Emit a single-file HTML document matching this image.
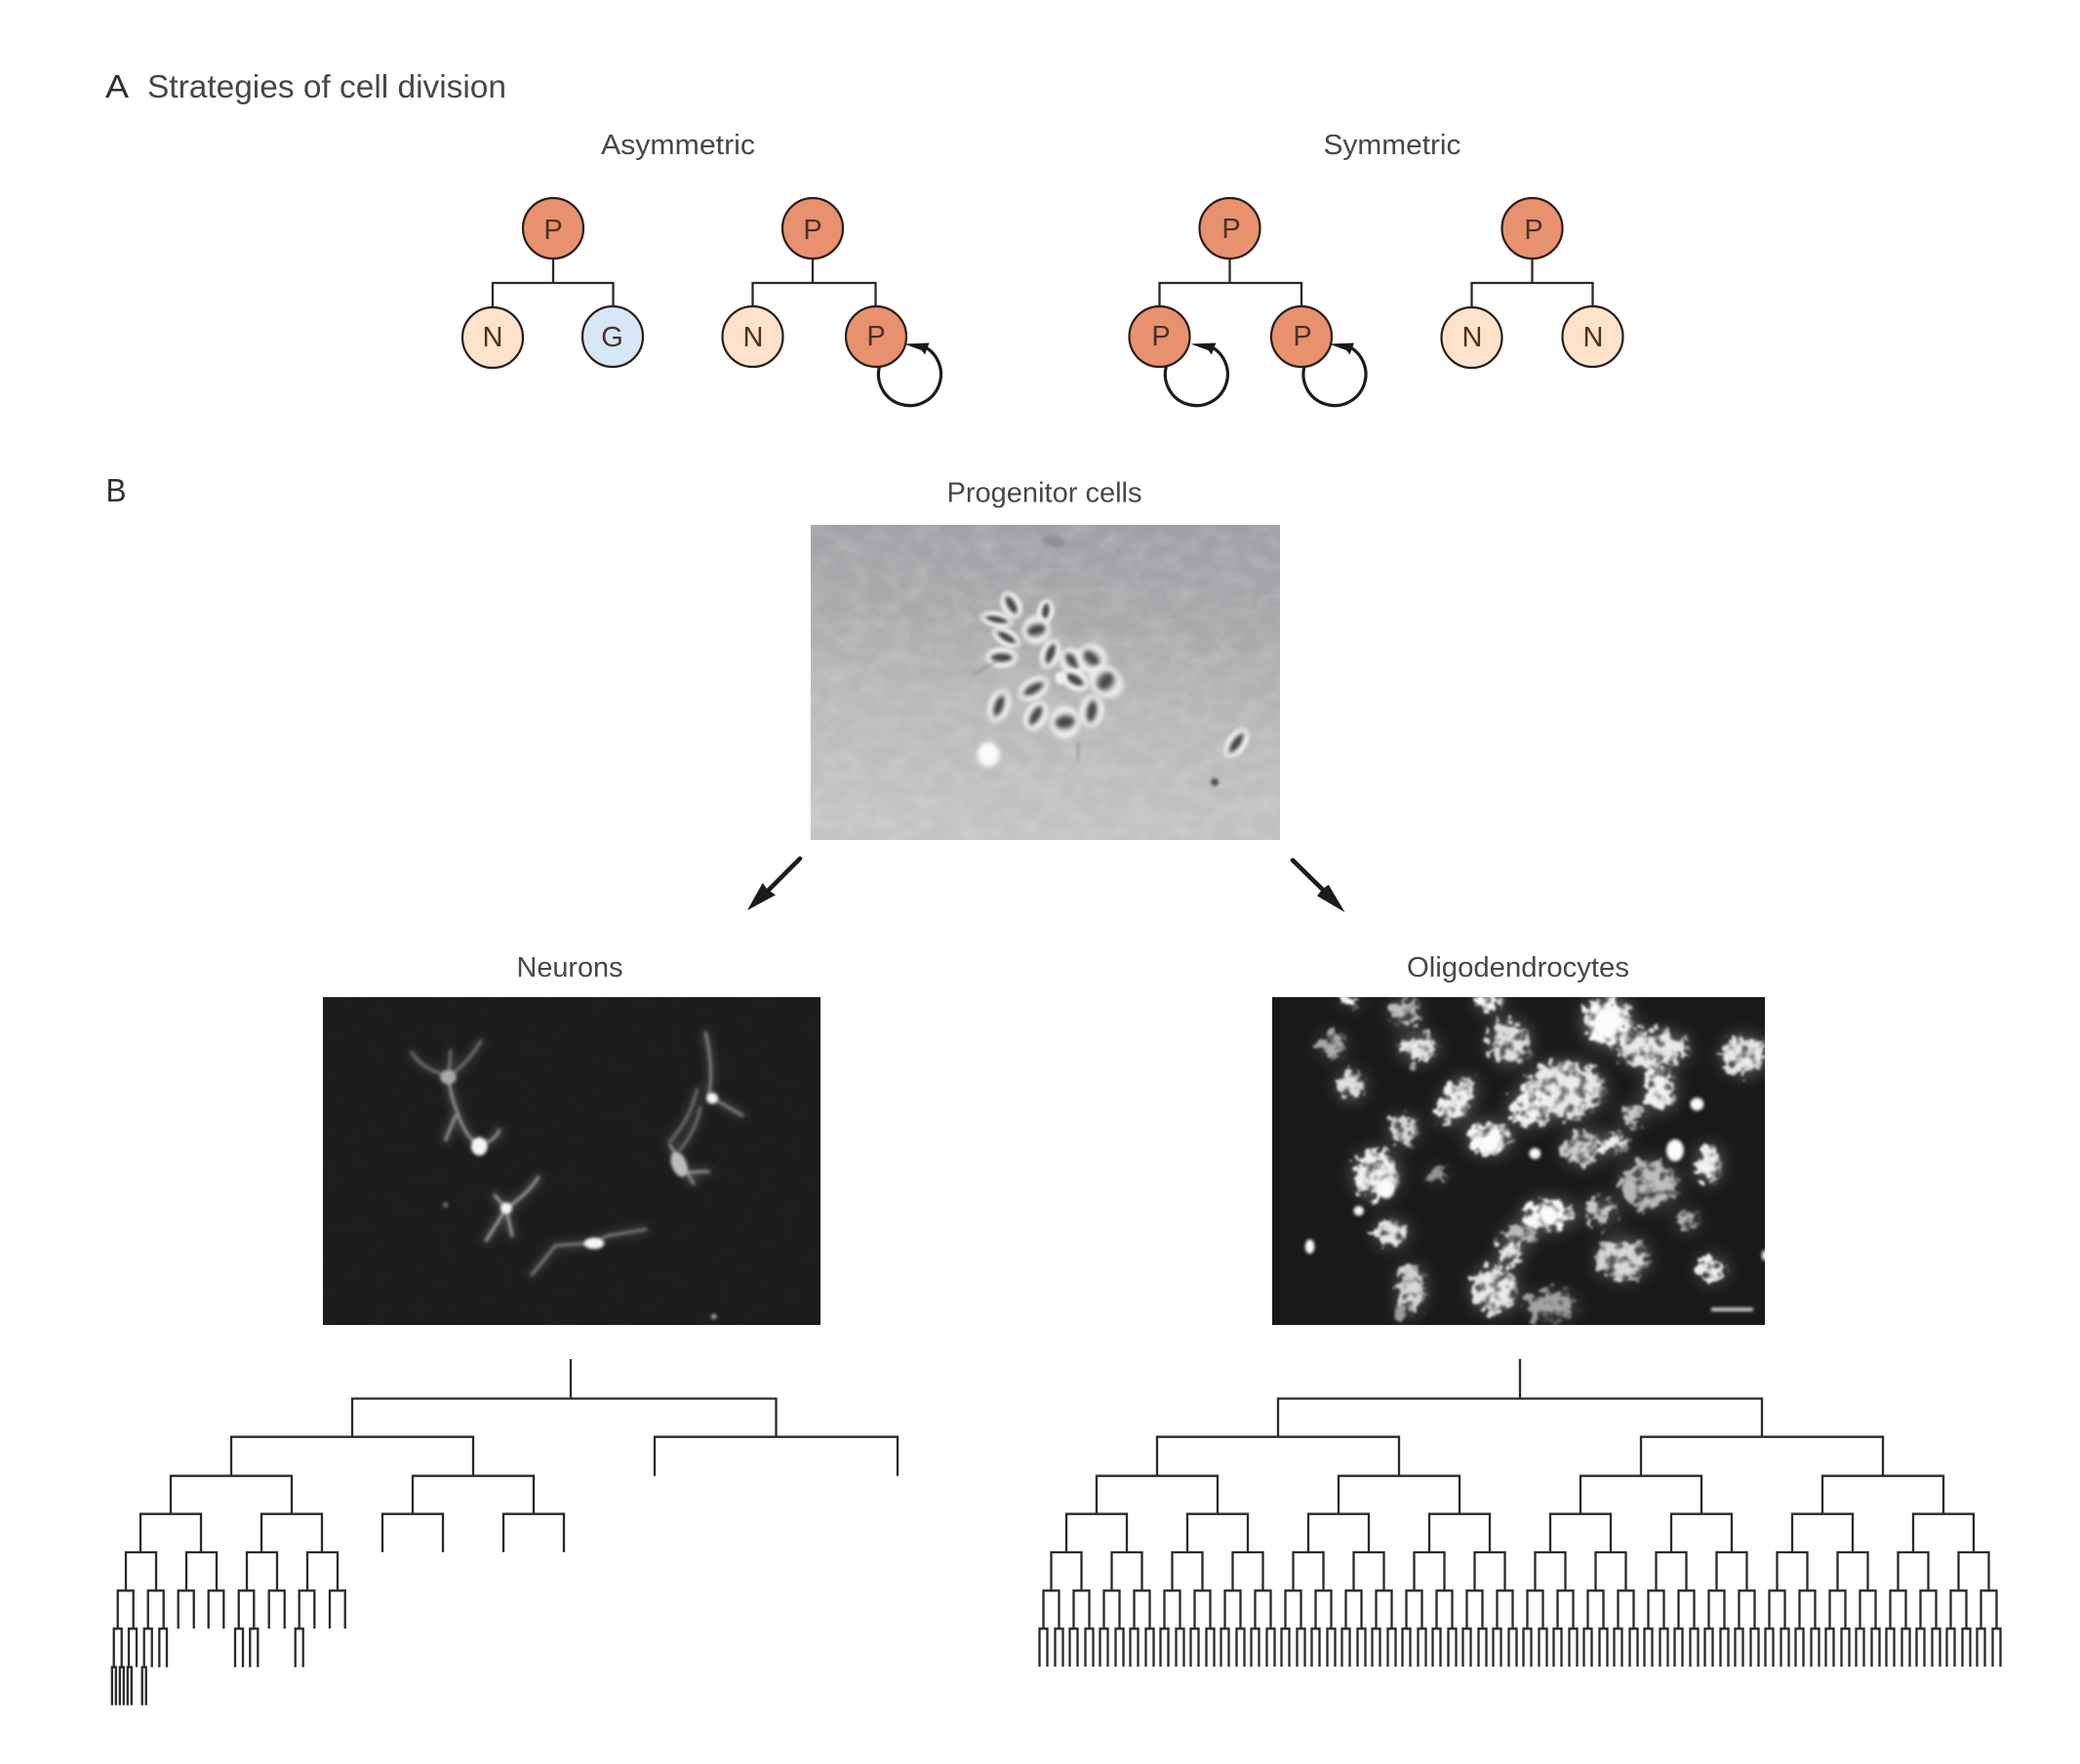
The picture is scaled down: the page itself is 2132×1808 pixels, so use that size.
<!DOCTYPE html>
<html><head><meta charset="utf-8"><title>Strategies of cell division</title>
<style>html,body{margin:0;padding:0;background:#fff}svg{display:block}text{font-family:"Liberation Sans",sans-serif;fill:#47474a}.n{font-size:29px;text-anchor:middle;fill:#4a3026}.t{stroke:#2b2a2b;stroke-width:2.3;fill:none}</style></head>
<body>
<svg xmlns="http://www.w3.org/2000/svg" width="2132" height="1808" viewBox="0 0 2132 1808">
<defs>
<linearGradient id="pg" x1=".55" y1="0" x2=".42" y2="1"><stop offset="0" stop-color="#9ea0a3"/><stop offset=".3" stop-color="#a9aaac"/><stop offset=".6" stop-color="#b9b9b9"/><stop offset="1" stop-color="#c4c4c4"/></linearGradient>
<filter id="grain" x="0" y="0" width="1" height="1" color-interpolation-filters="sRGB"><feTurbulence type="fractalNoise" baseFrequency=".045 .06" numOctaves="4" seed="7"/><feColorMatrix type="matrix" values="0 0 0 0 1 0 0 0 0 1 0 0 0 0 1 1.4 0 0 0 -.5"/></filter>
<filter id="b4" x="-50%" y="-50%" width="200%" height="200%"><feGaussianBlur stdDeviation="5"/></filter>
<filter id="b6" x="-60%" y="-60%" width="220%" height="220%"><feGaussianBlur stdDeviation="7"/></filter>
<filter id="b3" filterUnits="userSpaceOnUse" x="0" y="0" width="1560" height="1140"><feGaussianBlur stdDeviation="4.5"/></filter>
<filter id="b12" filterUnits="userSpaceOnUse" x="0" y="0" width="1560" height="1140"><feGaussianBlur stdDeviation="14"/></filter>
<filter id="b40" filterUnits="userSpaceOnUse" x="0" y="0" width="1560" height="1140"><feGaussianBlur stdDeviation="28"/></filter>
<filter id="lace" filterUnits="userSpaceOnUse" x="0" y="0" width="1560" height="1140" color-interpolation-filters="sRGB"><feTurbulence type="fractalNoise" baseFrequency=".035" numOctaves="3" seed="4" result="n"/><feDisplacementMap in="SourceGraphic" in2="n" scale="85" xChannelSelector="R" yChannelSelector="G" result="d"/><feColorMatrix in="n" type="matrix" values="0 0 0 0 1 0 0 0 0 1 0 0 0 0 1 4 0 0 0 -1.1" result="m"/><feComposite in="d" in2="m" operator="in"/><feGaussianBlur stdDeviation="3.6"/></filter>
<clipPath id="c1"><rect x="831" y="538" width="481" height="323"/></clipPath>
<clipPath id="c2"><rect x="331" y="1022" width="510" height="336"/></clipPath>
<clipPath id="c3"><rect x="1304" y="1022" width="505" height="336"/></clipPath>
<g id="c"><g filter="url(#b6)"><ellipse rx="46" ry="37" fill="#f6f6f6"/><ellipse rx="34" ry="19" fill="#4c4c4e"/></g></g>
<g id="loop"><path d="M4,30.5A32 32 0 1 0 47,9" fill="none" stroke="#1e1c1d" stroke-width="3.2"/><path d="M29,7.5L55,6.5L50.5,18.5L47,14Z" fill="#1a1819"/></g>
<g id="r7"><path class="t" stroke-width="2" d="M-4,1708.3V1669.3H4V1708.3"/></g>
<g id="r6"><path class="t" d="M-8,1669.3V1630.3H8V1669.3"/><use href="#r7" x="-8"/><use href="#r7" x="8"/></g>
<g id="r5"><path class="t" d="M-15.5,1630.3V1591H15.5V1630.3"/><use href="#r6" x="-15.5"/><use href="#r6" x="15.5"/></g>
<g id="r4"><path class="t" d="M-31,1591V1551.7H31V1591"/><use href="#r5" x="-31"/><use href="#r5" x="31"/></g>
<g id="r3"><path class="t" d="M-62,1551.7V1512.7H62V1551.7"/><use href="#r4" x="-62"/><use href="#r4" x="62"/></g>
<g id="r2"><path class="t" d="M-124,1512.7V1472.7H124V1512.7"/><use href="#r3" x="-124"/><use href="#r3" x="124"/></g>
<g id="ol" fill="#fafafa">
<ellipse cx="245" cy="45" rx="28" ry="14"/><ellipse cx="405" cy="80" rx="44" ry="44" opacity=".7"/><ellipse cx="655" cy="50" rx="38" ry="28"/><ellipse cx="190" cy="185" rx="38" ry="38" opacity=".6"/><ellipse cx="445" cy="190" rx="54" ry="42" opacity=".9"/><ellipse cx="715" cy="175" rx="60" ry="68" opacity=".85"/><ellipse cx="1005" cy="110" rx="72" ry="74"/><ellipse cx="1140" cy="195" rx="105" ry="54" opacity=".9"/><ellipse cx="1410" cy="215" rx="64" ry="60" opacity=".9"/><ellipse cx="1160" cy="320" rx="44" ry="66" opacity=".95"/><ellipse cx="245" cy="310" rx="38" ry="44" opacity=".85"/><ellipse cx="560" cy="355" rx="40" ry="80" opacity=".95" transform="rotate(30 560 355)"/><ellipse cx="880" cy="320" rx="115" ry="85" opacity=".9"/><ellipse cx="780" cy="375" rx="64" ry="54" opacity=".95"/><ellipse cx="1080" cy="400" rx="32" ry="32" opacity=".75"/><ellipse cx="400" cy="445" rx="38" ry="44" opacity=".8"/><ellipse cx="655" cy="470" rx="64" ry="48"/><ellipse cx="930" cy="500" rx="54" ry="54" opacity=".75"/><ellipse cx="1020" cy="485" rx="44" ry="28" opacity=".95"/><ellipse cx="1305" cy="550" rx="34" ry="58" opacity=".95"/><ellipse cx="320" cy="580" rx="64" ry="74" opacity=".95"/><ellipse cx="500" cy="585" rx="28" ry="22" opacity=".5"/><ellipse cx="1130" cy="610" rx="85" ry="74" opacity=".65"/><ellipse cx="830" cy="705" rx="75" ry="44"/><ellipse cx="985" cy="695" rx="48" ry="38" opacity=".75"/><ellipse cx="750" cy="760" rx="44" ry="32" opacity=".65"/><ellipse cx="1240" cy="725" rx="32" ry="32" opacity=".65"/><ellipse cx="365" cy="760" rx="48" ry="38" opacity=".9"/><ellipse cx="720" cy="815" rx="34" ry="44" opacity=".9"/><ellipse cx="1050" cy="840" rx="75" ry="64" opacity=".8"/><ellipse cx="1315" cy="872" rx="38" ry="38" opacity=".95"/><ellipse cx="425" cy="930" rx="38" ry="70" opacity=".8"/><ellipse cx="670" cy="935" rx="64" ry="74" opacity=".9"/><ellipse cx="840" cy="985" rx="75" ry="44" opacity=".55"/><ellipse cx="400" cy="1005" rx="22" ry="22" opacity=".55"/>
</g>
<g id="np" fill="none" stroke-linecap="round">
<path d="M295,205Q320,255 405,280M410,200L405,280M500,170Q465,235 405,280" stroke="#8f8f8f"/>
<path d="M405,290Q410,340 430,390Q455,470 495,490M425,400L395,475M555,445Q540,480 495,490" stroke="#bdbdbd"/>
<path d="M540,645L575,685M670,590Q640,640 575,685L515,785M575,685L592,770" stroke="#c8c8c8"/>
<path d="M650,890Q690,840 720,800L830,792L875,770L990,750" stroke="#9c9c9c"/>
<path d="M1165,145Q1190,250 1175,340L1275,400" stroke="#a6a6a6"/>
<path d="M1140,320Q1120,410 1060,480M1150,375Q1140,440 1090,505" stroke="#8a8a8a"/>
<path d="M1060,490L1130,610M1100,575L1175,572" stroke="#b5b5b5"/>
</g>
</defs>
<rect width="2132" height="1808" fill="#fff"/>

<text x="108" y="100" font-size="33" textLength="24" lengthAdjust="spacingAndGlyphs" style="fill:#303033">A</text>
<text x="151" y="100" font-size="33" textLength="368" lengthAdjust="spacingAndGlyphs">Strategies of cell division</text>
<text x="616" y="158" font-size="29" textLength="158" lengthAdjust="spacingAndGlyphs">Asymmetric</text>
<text x="1356.5" y="158" font-size="29" textLength="141" lengthAdjust="spacingAndGlyphs">Symmetric</text>
<text x="108.5" y="514" font-size="33" textLength="21" lengthAdjust="spacingAndGlyphs" style="fill:#303033">B</text>
<text x="970.5" y="514.5" font-size="29" textLength="200" lengthAdjust="spacingAndGlyphs">Progenitor cells</text>
<text x="529.5" y="1001" font-size="29" textLength="109" lengthAdjust="spacingAndGlyphs">Neurons</text>
<text x="1442" y="1001" font-size="29" textLength="228" lengthAdjust="spacingAndGlyphs">Oligodendrocytes</text>

<path class="t" d="M567,265V290M505,315V290H628.5V315M833,265V290M771.5,315V290H897.5V315M1260.5,265V290M1188.5,315V290H1334V315M1570.5,265V290M1508.5,315V290H1632.5V315"/>
<g stroke="#2a1d18" stroke-width="2.2">
<circle cx="567" cy="234" r="31" fill="#e8916e"/><circle cx="833" cy="234" r="31" fill="#e8916e"/><circle cx="1260.5" cy="234" r="31" fill="#e8916e"/><circle cx="1570.5" cy="234" r="31" fill="#e8916e"/>
<circle cx="505" cy="346" r="31" fill="#fde3cb"/><circle cx="628" cy="345" r="31" fill="#d6e6f5"/><circle cx="771.5" cy="345" r="31" fill="#fde3cb"/><circle cx="898" cy="345" r="31" fill="#e8916e"/>
<circle cx="1188.5" cy="345" r="31" fill="#e8916e"/><circle cx="1334" cy="345" r="31" fill="#e8916e"/><circle cx="1508.5" cy="346" r="31" fill="#fde3cb"/><circle cx="1632.5" cy="345" r="31" fill="#fde3cb"/>
</g>
<use href="#loop" x="897.5" y="345"/><use href="#loop" x="1191.4" y="345"/><use href="#loop" x="1333" y="345"/>
<text class="n" x="567" y="245">P</text><text class="n" x="833" y="245">P</text><text class="n" x="1262" y="244">P</text><text class="n" x="1572" y="245">P</text>
<text class="n" x="505" y="355">N</text><text class="n" x="627.5" y="355">G</text><text class="n" x="772" y="355">N</text><text class="n" x="898" y="354">P</text>
<text class="n" x="1190" y="354">P</text><text class="n" x="1335" y="354">P</text><text class="n" x="1509" y="355">N</text><text class="n" x="1633" y="355">N</text>

<!-- progenitor photo -->
<g clip-path="url(#c1)">
<rect x="831" y="538" width="481" height="323" fill="url(#pg)"/>
<rect x="831" y="538" width="481" height="323" filter="url(#grain)" opacity=".24"/>
<g transform="translate(820,530) scale(.33333)">
<ellipse cx="780" cy="75" rx="36" ry="16" fill="#8e8f91" filter="url(#b4)" transform="rotate(15 780 75)"/>
<use href="#c" transform="translate(650,270) rotate(60) scale(.95,.8)"/><use href="#c" transform="translate(605,315) rotate(12) scale(1.1,.65)"/><use href="#c" transform="translate(755,290) rotate(-80) scale(.8,.7)"/><use href="#c" transform="translate(727,347) rotate(-15) scale(.95,1.15)"/><use href="#c" transform="translate(635,370) rotate(30) scale(1,.7)"/><use href="#c" transform="translate(620,432) rotate(0) scale(1.05,.85)"/><use href="#c" transform="translate(770,420) rotate(-70) scale(1,.8)"/><use href="#c" transform="translate(838,443) rotate(50) scale(.95,1)"/><use href="#c" transform="translate(897,435) rotate(45) scale(1,1.2)"/><use href="#c" transform="translate(845,500) rotate(30) scale(.95,.85)"/><use href="#c" transform="translate(940,505) rotate(-50) scale(1,1.5)"/><use href="#c" transform="translate(718,528) rotate(-30) scale(1.1,.9)"/><use href="#c" transform="translate(612,580) rotate(-70) scale(1.1,.9)"/><use href="#c" transform="translate(725,610) rotate(-60) scale(1.05,.9)"/><use href="#c" transform="translate(815,630) rotate(-10) scale(1,1.3)"/><use href="#c" transform="translate(897,597) rotate(-80) scale(1.1,1)"/><use href="#c" transform="translate(1342,695) rotate(-55) scale(1.1,.8)"/>
<ellipse cx="802" cy="495" rx="17" ry="20" fill="#f0f0f0" filter="url(#b4)"/>
<ellipse cx="580" cy="730" rx="34" ry="38" fill="#fafafa" filter="url(#b6)"/>
<circle cx="1275" cy="815" r="12" fill="#4d4d4d" filter="url(#b4)"/>
<path d="M530,485L610,440M855,690L855,750" stroke="#888" stroke-width="5" fill="none" filter="url(#b4)"/>
</g></g>

<!-- neurons photo -->
<g clip-path="url(#c2)">
<rect x="331" y="1022" width="513" height="336" fill="#1e1b1c"/>
<rect x="331" y="1022" width="513" height="336" filter="url(#grain)" opacity=".02"/>
<g transform="translate(320,1010) scale(.346,.33333)">
<use href="#np" stroke-width="22" opacity=".28" filter="url(#b12)"/>
<use href="#np" stroke-width="7" opacity=".85" filter="url(#b3)"/>
<g filter="url(#b3)" fill="#f6f6f6">
<ellipse cx="403" cy="282" rx="24" ry="22" fill="#a8a8a8"/><ellipse cx="495" cy="495" rx="24" ry="28"/><circle cx="575" cy="685" r="17"/><ellipse cx="835" cy="793" rx="30" ry="17"/><circle cx="1185" cy="347" r="17"/><ellipse cx="1087" cy="550" rx="22" ry="40" fill="#bdbdbd" transform="rotate(-20 1087 550)"/><circle cx="395" cy="675" r="7" fill="#8a8a8a"/><circle cx="1190" cy="1018" r="8" fill="#aaa"/>
</g></g></g>

<!-- oligodendrocytes photo -->
<g clip-path="url(#c3)">
<rect x="1304" y="1022" width="508" height="336" fill="#1b1819"/>
<g transform="translate(1300,1010) scale(.346,.33333)">
<use href="#ol" opacity=".4" filter="url(#b40)"/>
<use href="#ol" filter="url(#lace)"/>
<g filter="url(#b3)" fill="#fbfbfb"><circle cx="790" cy="517" r="17"/><ellipse cx="1205" cy="507" rx="26" ry="34"/><circle cx="268" cy="693" r="15"/><ellipse cx="123" cy="803" rx="14" ry="22"/><ellipse cx="1470" cy="830" rx="8" ry="16"/><circle cx="428" cy="253" r="9" fill="#bbb"/><circle cx="1270" cy="365" r="20"/><circle cx="655" cy="487" r="26"/><circle cx="1005" cy="110" r="40"/><circle cx="830" cy="705" r="26"/><ellipse cx="350" cy="625" rx="24" ry="30"/></g>
<rect x="1312" y="991" width="124" height="11" fill="#d8d8d8" filter="url(#b3)"/>
</g></g>

<!-- arrows -->
<path d="M820,880L787,913" stroke="#1c1a1b" stroke-width="4.6" stroke-linecap="round"/>
<path d="M766,933L781.7,905L786.7,911.7L795,917.3Z" fill="#1c1a1b"/>
<path d="M1325,881.7L1356,912" stroke="#1c1a1b" stroke-width="4.6" stroke-linecap="round"/>
<path d="M1378.5,935L1350,918.3L1355,911.7L1361.7,906.7Z" fill="#1c1a1b"/>

<!-- left lineage -->
<path class="t" d="M585,1393V1433.5M361,1472.7V1433.5H795.5V1472.7M237,1512.7V1472.7H485V1512.7M671,1512.7V1472.7H920V1512.7M175,1551.7V1512.7H299V1551.7M423,1551.7V1512.7H547V1551.7M144,1591V1551.7H206V1591M268,1591V1551.7H330V1591M392,1591V1551.7H454V1591M516,1591V1551.7H578V1591M129,1630.3V1591H160V1630.3M191,1630.3V1591H222V1630.3M253,1630.3V1591H284V1630.3M315,1630.3V1591H346V1630.3M120.7,1669.3V1630.3H136.7V1669.3M151.7,1669.3V1630.3H167.7V1669.3M182.7,1669.3V1630.3H198.7V1669.3M213.7,1669.3V1630.3H229.3V1669.3M244.7,1669.3V1630.3H260.3V1669.3M275.7,1669.3V1630.3H291.7V1669.3M306.7,1669.3V1630.3H322.3V1669.3M338,1669.3V1630.3H353.7V1669.3M116.7,1708.7V1669.3H124.7V1708.7M132,1708.7V1669.3H140V1708.7M147.7,1708.7V1669.3H155.7V1708.7M163.3,1708.7V1669.3H171V1708.7M241,1708.7V1669.3H249V1708.7M256.3,1708.7V1669.3H264.3V1708.7M302.7,1708.7V1669.3H310.7V1708.7M114.8,1747.7V1708.7H118.8V1747.7M122.8,1747.7V1708.7H126.8V1747.7M130.8,1747.7V1708.7H134.8V1747.7M145.7,1747.7V1708.7H149.7V1747.7"/>

<!-- right lineage -->
<path class="t" d="M1558,1393V1433.5M1310,1472.7V1433.5H1806V1472.7"/>
<use href="#r2" x="1310"/><use href="#r2" x="1806"/>
</svg>
</body></html>
